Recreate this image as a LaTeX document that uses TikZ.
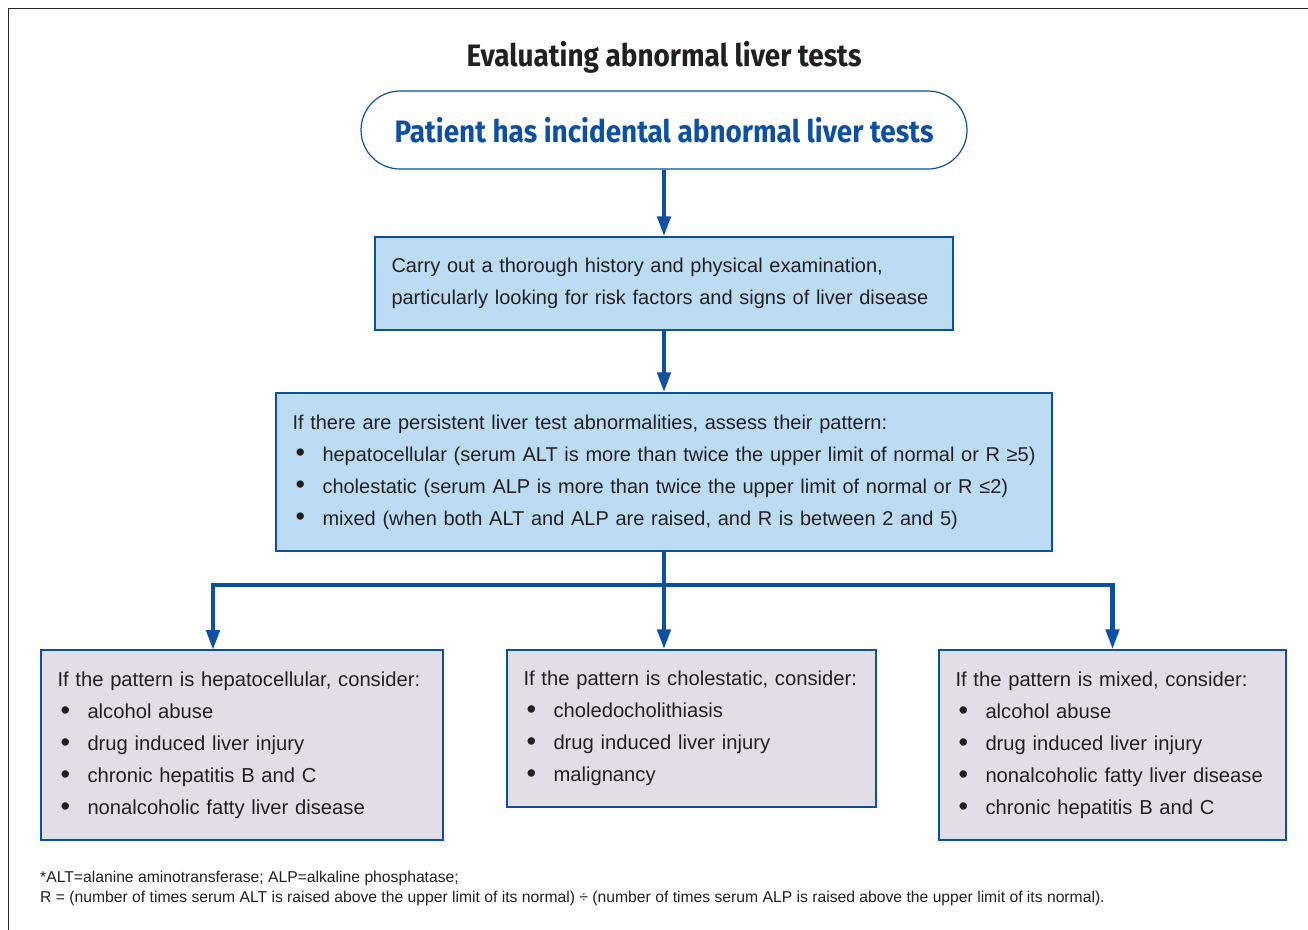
\documentclass[tikz,border=0pt]{standalone}
\usepackage{fontspec}
\setmainfont{Liberation Sans}
\newfontfamily\headfont[FakeStretch=0.9]{Fira Sans}
\usepackage{graphicx}
\usepackage{xcolor}
\usepackage{tikz}
\usetikzlibrary{arrows.meta, positioning, calc}
\definecolor{lblue}{HTML}{0D4FA2}
\definecolor{lsky}{HTML}{BBDCF3}
\definecolor{lgrey}{HTML}{E1DEE6}
\definecolor{link}{HTML}{231F20}
\newcommand{\bul}{\makebox[30pt][l]{\hspace{3pt}\raisebox{-0.8pt}{\scalebox{1.35}{\textbullet}}}}

\tikzset{
  stepbox/.style={draw=lblue, line width=1.4pt, fill=lsky, inner xsep=16.5pt, inner ysep=0pt,
    align=left, text=link, font=\fontsize{20}{32}\selectfont},
  choicebox/.style={stepbox, fill=lgrey, font=\fontsize{20.2}{32}\selectfont},
  flow/.style={lblue, line width=4.5pt, -{Triangle[length=20pt, width=13pt]}},
}

\begin{document}
\begin{tikzpicture}[x=1pt, y=-1pt]
\useasboundingbox (0,0) rectangle (1308,929);
\fill[white] (0,0) rectangle (1308,929);
\draw[black!85, line width=1.2pt] (8.5,940) -- (8.5,8.5) -- (1320,8.5);
\node[font=\headfont\bfseries\fontsize{31}{36}\selectfont, text=link] (title) at (664,57)
  {Evaluating abnormal liver tests};
\node[draw=lblue, line width=1.2pt, rounded corners=39pt, minimum width=606pt, minimum height=78pt,
  font=\headfont\bfseries\fontsize{31}{36}\selectfont, text=lblue] (pill) at (664,130)
  {Patient has incidental abnormal liver tests};
\node[stepbox, text width=545pt, minimum height=93pt] (hist) at (664,283.5)
  {Carry out a thorough history and physical examination,\\
   particularly looking for risk factors and signs of liver disease};
\node[stepbox, text width=743pt, minimum height=158pt] (pattern) at (664,472)
  {If there are persistent liver test abnormalities, assess their pattern:\\
   \mbox{\bul hepatocellular (serum ALT is more than twice the upper limit of normal or R ≥5)}\\
   \bul cholestatic (serum ALP is more than twice the upper limit of normal or R ≤2)\\
   \bul mixed (when both ALT and ALP are raised, and R is between 2 and 5)};
\node[choicebox, text width=369pt, minimum height=190pt] (hepato) at (242,745)
  {If the pattern is hepatocellular, consider:\\
   \bul alcohol abuse\\
   \bul drug induced liver injury\\
   \bul chronic hepatitis B and C\\
   \bul nonalcoholic fatty liver disease};
\node[choicebox, text width=336pt, minimum height=157pt] (cholest) at (691.5,728.5)
  {If the pattern is cholestatic, consider:\\
   \bul choledocholithiasis\\
   \bul drug induced liver injury\\
   \bul malignancy};
\node[choicebox, text width=314pt, minimum height=190pt] (mixed) at (1112.5,745)
  {If the pattern is mixed, consider:\\
   \bul alcohol abuse\\
   \bul drug induced liver injury\\
   \bul nonalcoholic fatty liver disease\\
   \bul chronic hepatitis B and C};
\node[anchor=north west, inner sep=0pt, align=left, text=link,
  font=\fontsize{15.7}{20}\selectfont] (notes) at (40,871)
  {*ALT=alanine aminotransferase; ALP=alkaline phosphatase;\\
   R = (number of times serum ALT is raised above the upper limit of its normal) ÷ (number of times serum ALP is raised above the upper limit of its normal).};
\coordinate (split) at (664,585);
\coordinate (hepin) at (213,650);
\draw[flow] (pill) -- (hist);
\draw[flow] (hist) -- (pattern);
\draw[flow] (pattern.south) -- (pattern.south |- cholest.north);
\draw[flow] (split) -| (hepin);
\draw[flow] (split) -| (mixed.north);
\end{tikzpicture}
\end{document}
